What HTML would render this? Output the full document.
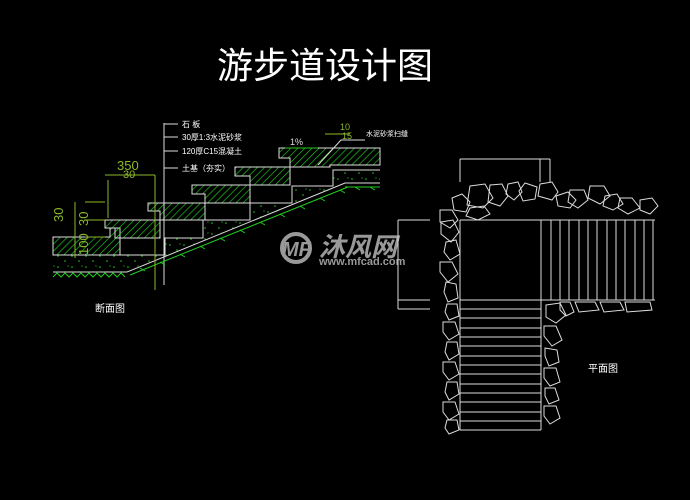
<!DOCTYPE html>
<html><head><meta charset="utf-8"><style>
html,body{margin:0;padding:0;background:#000;width:690px;height:500px;overflow:hidden}
svg{display:block}
text{font-family:"Liberation Sans","Noto Sans CJK SC",sans-serif}
</style></head><body>
<svg width="690" height="500" viewBox="0 0 690 500" xmlns="http://www.w3.org/2000/svg">
<defs>
<pattern id="h" width="5" height="5" patternUnits="userSpaceOnUse" patternTransform="rotate(45)">
<line x1="0" y1="0" x2="0" y2="5" stroke="#22cc22" stroke-width="1.3"/>
</pattern>
<pattern id="d" width="14" height="11" patternUnits="userSpaceOnUse">
<circle cx="2" cy="3" r="0.8" fill="#22cc22"/><circle cx="9" cy="8" r="0.8" fill="#22cc22"/><circle cx="12" cy="2" r="0.6" fill="#22cc22"/>
</pattern>
</defs>
<rect width="690" height="500" fill="#000"/>
<text x="217" y="78" fill="#fff" font-size="36" font-family="Noto Sans CJK SC,sans-serif">游步道设计图</text>

<!-- section -->
<path d="M53,255 H165 V238 H203 V220 H250 V203 H292 V186 H333 V170 H380 V183 H345 L127,272 H53 Z" fill="url(#d)"/>
<g stroke="#ddd" stroke-width="1" fill="url(#h)">
<path d="M53,237 H110 V228 H120 V255 H53 Z"/>
<path d="M105,220 H160 V238 H115 V228 H105 Z"/>
<path d="M148,203 H205 V220 H160 V211 H148 Z"/>
<path d="M192,185 H250 V203 H205 V194 H192 Z"/>
<path d="M235,167 H290 V185 H250 V176 H235 Z"/>
<path d="M279,148 H380 V165 H330 V167 H290 V158 H279 Z"/>
</g>
<g fill="none" stroke="#ddd" stroke-width="1">
<path d="M120,255 H165 V238 H203 V220 H250 V203 H292 V186 H333 V170 H380"/>
<path d="M53,272 H127 L345,183 H380"/>
<line x1="164" y1="123" x2="164" y2="285"/>
<line x1="164" y1="124" x2="178" y2="124"/>
<line x1="164" y1="137" x2="178" y2="137"/>
<line x1="164" y1="151" x2="178" y2="151"/>
<line x1="164" y1="168" x2="178" y2="168"/>
<path d="M318,165 L341,140 H365"/>
</g>
<g fill="none" stroke="#22cc22" stroke-width="1">
<path d="M53,277 l4,-4 4,4 4,-4 4,4 4,-4 4,4 4,-4 4,4 4,-4 4,4 4,-4 4,4 4,-4 4,4 4,-4 4,4 4,-4 4,4"/>
<path d="M130,275 L348,187 M345,187 H380"/>
<path d="M140,268 l5,3 M160,262 l5,3 M180,254 l5,3 M200,246 l5,3 M220,238 l5,3 M240,230 l5,3 M260,222 l5,3 M280,214 l5,3 M300,206 l5,3 M320,198 l5,3 M340,190 l5,3 M355,187 l5,3 M370,187 l5,3"/>
</g>
<g fill="none" stroke="#8cb82c" stroke-width="1">
<line x1="105" y1="175" x2="155" y2="175"/>
<line x1="108" y1="180" x2="108" y2="218"/>
<line x1="75" y1="202" x2="75" y2="258"/>
<line x1="85" y1="202" x2="105" y2="202"/>
<line x1="85" y1="220" x2="105" y2="220"/>
<line x1="85" y1="237" x2="105" y2="237"/>
<line x1="155" y1="175" x2="155" y2="290"/>
<line x1="325" y1="134" x2="350" y2="134"/>
</g>
<line x1="285" y1="148" x2="318" y2="148" stroke="#22cc22"/>
<g fill="#fff" font-size="8">
<text x="182" y="127">石 板</text>
<text x="182" y="140">30厚1:3水泥砂浆</text>
<text x="182" y="154">120厚C15混凝土</text>
<text x="182" y="171">土基（夯实）</text>
<text x="366" y="136" font-size="7">水泥砂浆扫缝</text>
<text x="95" y="312" font-size="10">断面图</text>
<text x="588" y="372" font-size="10">平面图</text>
</g>
<g fill="#8cb82c" font-size="13">
<text x="117" y="170">350</text>
<text x="123" y="178" font-size="11">30</text>
<text x="290" y="145" fill="#ddd" font-size="9">1%</text>
<text x="340" y="130" font-size="9">10</text>
<text x="342" y="139" font-size="9">15</text>
<text transform="translate(63,222) rotate(-90)">30</text>
<text transform="translate(88,255) rotate(-90)">100</text>
<text transform="translate(88,226) rotate(-90)">30</text>
</g>

<!-- watermark -->
<g fill="#999">
<circle cx="296" cy="248" r="14" fill="none" stroke="#999" stroke-width="4"/>
<text x="282" y="256" font-size="20" font-weight="bold" font-style="italic">MF</text>
<text x="319" y="256" font-size="26" font-weight="bold" font-style="italic" font-family="Noto Sans CJK SC,sans-serif">沐风网</text>
<text x="319" y="265" font-size="11" font-weight="bold">www.mfcad.com</text>
</g>

<!-- plan -->
<g fill="none" stroke="#ddd" stroke-width="1">
<line x1="460" y1="159" x2="550" y2="159"/>
<line x1="460" y1="159" x2="460" y2="182"/>
<line x1="540" y1="159" x2="540" y2="182"/>
<line x1="550" y1="159" x2="550" y2="182"/>
<line x1="398" y1="220" x2="398" y2="309"/>
<line x1="398" y1="220" x2="430" y2="220"/>
<line x1="398" y1="300" x2="430" y2="300"/>
<line x1="398" y1="309" x2="430" y2="309"/>
<line x1="460" y1="220" x2="655" y2="220"/>
<line x1="460" y1="220" x2="460" y2="430"/>
<line x1="460" y1="300" x2="655" y2="300"/>
<line x1="541" y1="220" x2="541" y2="430"/>
<path d="M551,220V300M560,220V300M569,220V300M579,220V300M588,220V300M597,220V300M607,220V300M616,220V300M625,220V300M635,220V300M644,220V300M653,220V300"/>
<path d="M460,309H541M460,318H541M460,328H541M460,337H541M460,346H541M460,356H541M460,365H541M460,374H541M460,384H541M460,393H541M460,402H541M460,412H541M460,421H541M460,430H541"/>
<path d="M470,186l15,-2 8,14 -10,10 -16,-3z"/>
<path d="M490,185l12,-1 6,12 -8,10 -12,-4z"/>
<path d="M508,184l10,-2 4,10 -8,8 -8,-6z"/>
<path d="M525,183l12,4 -2,12 -12,2 -4,-10z"/>
<path d="M540,184l12,-2 6,10 -6,8 -14,-4z"/>
<path d="M556,196l12,-4 8,8 -6,8 -12,-2z"/>
<path d="M570,190l14,0 4,10 -10,8 -10,-6z"/>
<path d="M590,186l14,0 6,10 -10,8 -12,-6z"/>
<path d="M605,196l12,-2 6,10 -10,6 -10,-4z"/>
<path d="M620,198l12,0 8,10 -12,6 -10,-6z"/>
<path d="M640,200l12,-2 6,8 -8,8 -10,-4z"/>
<path d="M452,198l10,-4 8,8 -4,10 -12,-2z"/>
<path d="M470,208l14,-2 6,8 -12,6 -12,-4z"/>
<path d="M440,210l12,0 6,10 -8,8 -10,-6z"/>
<path d="M441,222l12,-2 6,12 -8,10 -10,-8z"/>
<path d="M446,242l10,-2 4,14 -10,6 -6,-8z"/>
<path d="M440,262l12,0 6,12 -10,8 -8,-10z"/>
<path d="M446,282l10,2 2,14 -10,4 -4,-10z"/>
<path d="M447,304l10,0 2,12 -10,4 -4,-8z"/>
<path d="M443,322l12,0 4,12 -10,6 -6,-8z"/>
<path d="M447,342l10,0 2,12 -10,6 -4,-8z"/>
<path d="M443,362l12,0 4,12 -10,6 -6,-8z"/>
<path d="M447,382l10,0 2,12 -10,6 -4,-8z"/>
<path d="M443,402l12,0 4,12 -10,6 -6,-8z"/>
<path d="M447,420l10,0 2,10 -10,4 -4,-6z"/>
<path d="M546,305l14,-2 6,12 -10,8 -10,-6z"/>
<path d="M560,302l10,0 4,10 -8,4 -6,-6z"/>
<path d="M575,302l20,0 4,8 -20,2z"/>
<path d="M600,302l20,0 4,8 -20,2z"/>
<path d="M625,302l25,0 2,8 -25,2z"/>
<path d="M544,326l12,0 6,14 -10,6 -8,-10z"/>
<path d="M545,348l12,2 2,12 -10,4 -4,-10z"/>
<path d="M544,368l12,0 4,14 -10,4 -6,-8z"/>
<path d="M545,388l10,0 4,12 -10,4 -4,-8z"/>
<path d="M544,406l12,0 4,12 -10,6 -6,-8z"/>
</g>
</svg>
</body></html>
